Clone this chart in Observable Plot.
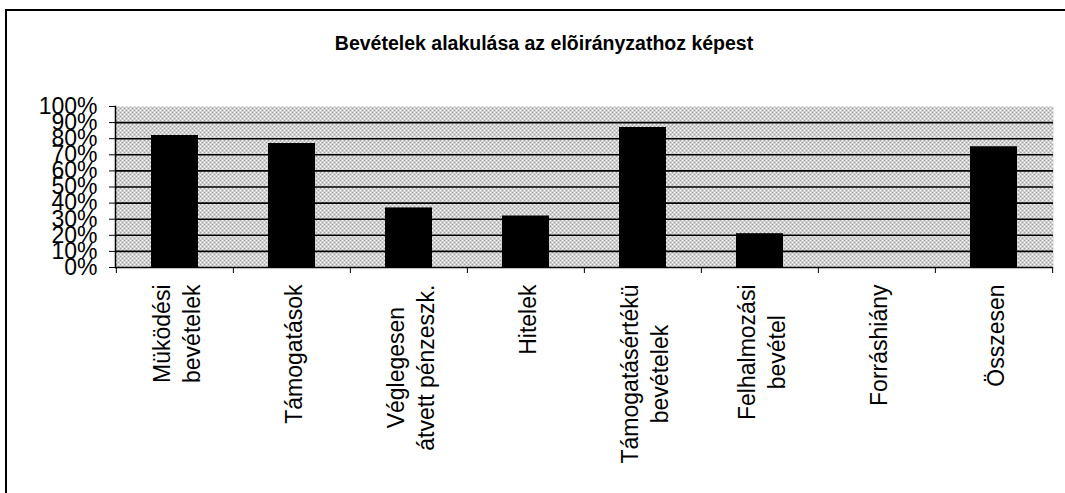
<!DOCTYPE html>
<html>
<head>
<meta charset="utf-8">
<script src="https://cdn.jsdelivr.net/npm/d3@7"></script>
<script src="https://cdn.jsdelivr.net/npm/@observablehq/plot@0.6"></script>
<style>
  body { margin: 0; background: #fff; }
  #wrap { position: relative; width: 1065px; height: 493px; overflow: hidden; font-family: Arial, "Liberation Sans", sans-serif; }
  #border { position: absolute; left: 5px; top: 9px; right: -10px; bottom: -10px; border-top: 2px solid #000; border-left: 2px solid #000; }
  #title { position: absolute; left: 0; width: 1088px; top: 34px; text-align: center; font-weight: bold; font-size: 19.5px; line-height: 19.5px; color: #000; }
  #chart { position: absolute; left: 0; top: 0; }
</style>
</head>
<body>
<div id="wrap">
  <div id="border"></div>
  <div id="chart"></div>
  <div id="title">Bevételek alakulása az elõirányzathoz képest</div>
</div>
<script>
// ---- data ----
const categories = [
  "Müködési\nbevételek",
  "Támogatások",
  "Véglegesen\nátvett pénzeszk.",
  "Hitelek",
  "Támogatásértékü\nbevételek",
  "Felhalmozási\nbevétel",
  "Forráshiány",
  "Összesen"
];
const values = [0.82, 0.77, 0.37, 0.32, 0.87, 0.21, 0, 0.75];
const yTicks = [0, 0.1, 0.2, 0.3, 0.4, 0.5, 0.6, 0.7, 0.8, 0.9, 1];
const gridValues = [0.1, 0.2, 0.3, 0.4, 0.5, 0.6, 0.7, 0.8, 0.9];

const data = categories.map((c, i) => ({cat: c, value: values[i]}));

// ---- layout ----
const W = 1065, H = 493;
const mL = 115, mR = 12, mT = 106, mB = 226;
const padIn = 0.6, padOut = 0.3;
const step = (W - mL - mR) / (categories.length - padIn + 2 * padOut);
const labelFont = 23;
const font = 'Arial, "Liberation Sans", sans-serif';

const ctx = document.createElement("canvas").getContext("2d");
ctx.font = `${labelFont}px Arial, "Liberation Sans", sans-serif`;

const labelMarks = categories.map(c => {
  const lines = c.split("\n");
  const w = Math.max(...lines.map(l => ctx.measureText(l).width));
  return Plot.text([c], {
    x: d => d, text: d => d,
    frameAnchor: "bottom", rotate: -90,
    textAnchor: "middle", lineAnchor: "middle", lineHeight: 1.3,
    fontSize: labelFont, fill: "black",
    dy: 17 + w / 2
  });
});

const chart = Plot.plot({
  width: W, height: H,
  marginLeft: mL, marginRight: mR, marginTop: mT, marginBottom: mB,
  style: {fontFamily: font, fontSize: "23px", color: "black", background: "transparent", overflow: "visible"},
  x: {type: "band", domain: categories, paddingInner: padIn, paddingOuter: padOut, axis: null},
  y: {domain: [0, 1], axis: null},
  marks: [
    Plot.frame({fill: "url(#dots)", stroke: "none"}),
    Plot.ruleY(gridValues, {stroke: "black", strokeWidth: 1.6}),
    Plot.barY(data, {x: "cat", y: "value", fill: "black"}),
    Plot.ruleY([0], {stroke: "black", strokeWidth: 1.5}),
    Plot.frame({anchor: "left", stroke: "black", strokeWidth: 1.5}),
    Plot.axisY({ticks: yTicks, tickFormat: d3.format(".0%"), tickSize: 6, tickPadding: 12, fontSize: 23, label: null, stroke: "black"}),
    Plot.axisX({tickSize: 6, tickFormat: () => "", dx: -step / 2, label: null, stroke: "black"}),
    Plot.axisX({ticks: [categories[categories.length - 1]], tickSize: 6, tickFormat: () => "", dx: step / 2, label: null, stroke: "black"}),
    ...labelMarks
  ]
});

const defs = d3.select(chart).insert("defs", ":first-child");
const pat = defs.append("pattern").attr("id", "dots")
  .attr("patternUnits", "userSpaceOnUse").attr("width", 4).attr("height", 4);
pat.append("rect").attr("width", 4).attr("height", 4).attr("fill", "#fff");
[[0, 0], [2, 1], [1, 2], [3, 3]].forEach(([px, py]) =>
  pat.append("rect").attr("x", px).attr("y", py).attr("width", 1).attr("height", 1)
    .attr("fill", "#444").attr("shape-rendering", "crispEdges"));

document.getElementById("chart").appendChild(chart);
</script>
</body>
</html>
